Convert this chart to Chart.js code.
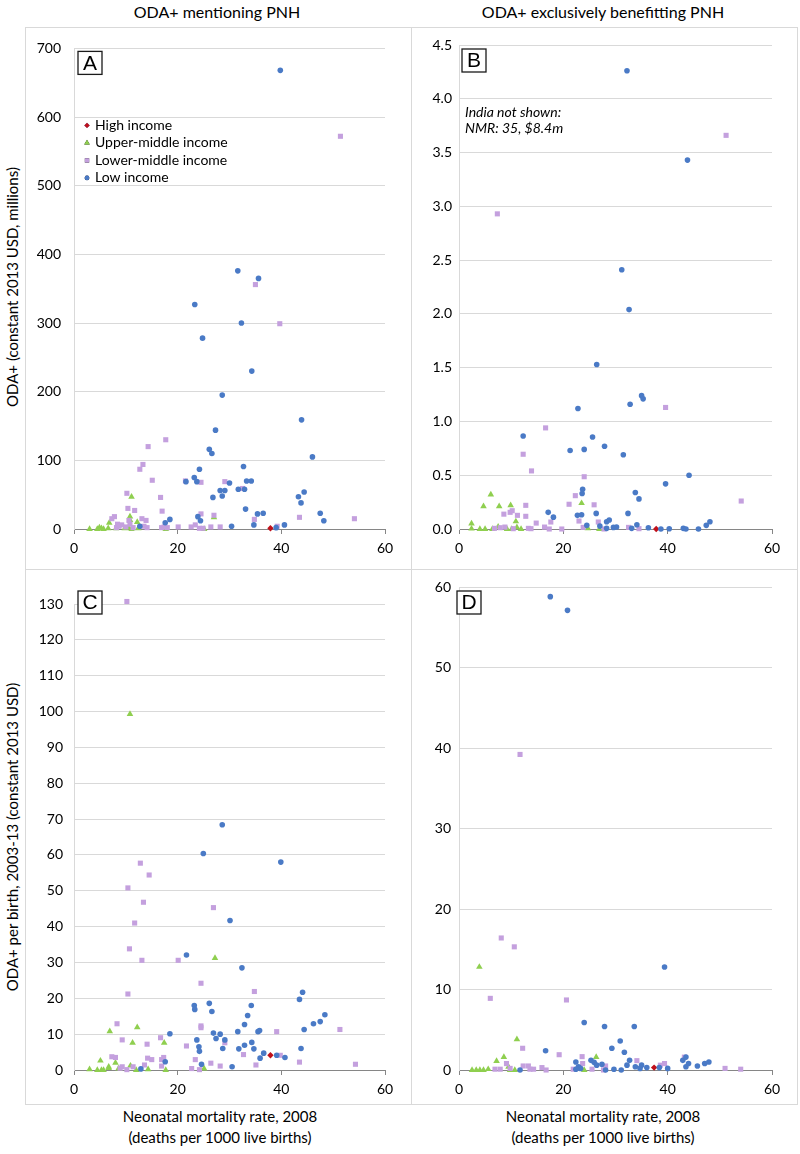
<!DOCTYPE html>
<html>
<head>
<meta charset="utf-8">
<script src="https://cdn.jsdelivr.net/npm/chart.js@4.4.0/dist/chart.umd.min.js"></script>
<style>
body { margin: 0; background: #fff; font-family: Lato, sans-serif; }
#page { position: relative; width: 800px; height: 1154px; overflow: hidden; }
.ln { position: absolute; background: #d9d9d9; }
canvas { position: absolute; }
.t { position: absolute; white-space: nowrap; color: #000; font-size: 15px; transform: translate(-50%, -50%); }
.rot { transform: translate(-50%, -50%) rotate(-90deg); }
</style>
</head>
<body>
<div id="page">
  <div class="ln" style="left:25px;top:27px;width:772px;height:1px"></div>
  <div class="ln" style="left:25px;top:1104px;width:772px;height:1px"></div>
  <div class="ln" style="left:25px;top:569px;width:772px;height:1px"></div>
  <div class="ln" style="left:25px;top:27px;width:1px;height:1078px"></div>
  <div class="ln" style="left:411px;top:27px;width:1px;height:1078px"></div>
  <div class="ln" style="left:797px;top:27px;width:1px;height:1078px"></div>

  <div class="t" style="left:217px;top:11px;font-size:16px">ODA+ mentioning PNH</div>
  <div class="t" style="left:603px;top:11px;font-size:16px">ODA+ exclusively benefitting PNH</div>
  <div class="t rot" style="left:12px;top:287px">ODA+ (constant 2013 USD, millions)</div>
  <div class="t rot" style="left:12px;top:837px">ODA+ per birth, 2003-13 (constant 2013 USD)</div>
  <div class="t" style="left:220px;top:1116px">Neonatal mortality rate, 2008</div>
  <div class="t" style="left:220px;top:1137px">(deaths per 1000 live births)</div>
  <div class="t" style="left:603px;top:1116px">Neonatal mortality rate, 2008</div>
  <div class="t" style="left:603px;top:1137px">(deaths per 1000 live births)</div>

  <canvas id="cA" width="386" height="542" style="left:25px;top:27px"></canvas>
  <canvas id="cB" width="386" height="542" style="left:411px;top:27px"></canvas>
  <canvas id="cC" width="386" height="535" style="left:25px;top:569px"></canvas>
  <canvas id="cD" width="386" height="535" style="left:411px;top:569px"></canvas>
</div>
<script>
// income groups
var groups = ["High income", "Upper-middle income", "Lower-middle income", "Low income"];
var xTicks = [0, 20, 40, 60];

// A: ODA+ mentioning PNH (millions) vs NMR
var aHigh = [[37.9, 1]];
var aUpper = [[11.1,47],[10.8,18],[10.8,13],[12.2,10],[6.8,9],[27.0,17],[3.0,0],[4.5,0],[4.9,2],[5.3,1],[5.7,0],[6.6,1],[8.1,1],[9.8,1],[10.5,2],[11.1,0],[12.4,1],[17.7,0],[25.1,0]];
var aLower = [[51.4,572],[35.0,356],[39.7,299],[17.7,130],[14.3,120],[13.3,94],[12.7,87],[15.1,71],[21.5,70],[24.5,68],[29.1,69],[32.5,59],[10.2,52],[16.7,46],[10.4,30],[11.7,27],[17.0,26],[7.8,18],[7.3,15],[13.1,15],[13.9,12.5],[10.6,12.5],[8.4,7],[9.2,6],[10.8,7],[27.0,20],[24.5,22],[34.8,14],[43.5,17],[54.1,15],[10.0,3],[11.4,2],[14.1,2],[13.5,4],[16.9,2],[18.0,2],[20.1,3],[22.6,3],[23.4,6],[24.2,1],[24.9,1],[26.4,3],[28.2,3],[39.2,4],[17.4,3],[8.2,2],[8.7,4]];
var aLow = [[39.8,668],[31.6,376],[35.6,365],[23.3,327],[32.3,300],[24.8,278],[34.3,230],[28.6,195],[43.9,159],[27.3,144],[46.0,105],[26.1,116],[26.6,110],[32.7,91],[24.2,87],[21.6,69],[23.2,75],[23.7,69],[30.0,67],[33.3,70],[34.2,70],[31.7,58],[32.9,58],[28.2,56],[29.1,56],[28.6,48],[26.8,46],[43.3,47],[44.4,54],[43.8,38],[33.1,29],[35.4,22],[36.5,23],[47.5,23],[48.2,12],[23.9,18],[24.4,12],[18.5,14],[17.6,9],[12.7,4],[30.4,4],[34.7,6],[40.6,6],[39.0,2]];

// B: ODA+ exclusively benefitting PNH (millions)
var bHigh = [[37.8, 0]];
var bUpper = [[6.1,0.32],[4.7,0.21],[7.7,0.21],[9.9,0.22],[23.5,0.24],[10.9,0.07],[2.4,0.05],[2.4,0.003],[4.0,0],[5.0,0],[6.4,0],[7.5,0.02],[9.2,0],[10.1,0],[11.1,0.015],[11.9,0],[24.7,0.006],[26.9,0]];
var bLower = [[51.2,3.66],[7.35,2.93],[39.6,1.13],[16.6,0.94],[12.3,0.695],[13.9,0.54],[24.0,0.486],[22.3,0.31],[21.1,0.23],[25.9,0.225],[54.1,0.26],[12.8,0.22],[8.6,0.138],[9.8,0.155],[10.2,0.17],[11.2,0.127],[12.8,0.118],[14.8,0.055],[17.6,0.065],[23.0,0.074],[26.7,0.065],[23.8,0.015],[19.7,0],[17.3,0],[16.4,0.018],[13.3,0.006],[13.8,0.003],[8.8,0.018],[7.9,0.012],[6.8,0.006],[10.4,0.003],[32.5,0.015],[34.5,0.003],[27.8,0]];
var bLow = [[32.2,4.26],[43.8,3.43],[31.2,2.41],[32.6,2.04],[26.4,1.53],[35.0,1.24],[35.3,1.21],[32.8,1.16],[22.8,1.12],[12.3,0.865],[25.6,0.856],[21.3,0.73],[24.0,0.74],[27.9,0.77],[31.5,0.69],[44.1,0.50],[39.6,0.42],[23.7,0.37],[23.6,0.33],[33.8,0.34],[34.5,0.28],[17.1,0.155],[18.1,0.11],[22.7,0.127],[23.5,0.133],[26.3,0.145],[32.4,0.145],[24.5,0.034],[27.0,0.027],[28.3,0.068],[28.8,0.083],[28.3,0.006],[29.6,0.015],[30.2,0.018],[33.1,0.006],[34.1,0.04],[36.3,0.012],[38.7,0],[40.3,0.003],[43.0,0.006],[43.5,0],[45.9,0],[47.4,0.034],[48.1,0.068]];

// C: ODA+ mentioning PNH per birth (USD)
var cHigh = [[37.9, 4.1]];
var cUpper = [[10.8,99.3],[27.2,31.2],[12.2,11.9],[6.9,10.8],[11.3,7.6],[17.4,7.6],[5.1,2.6],[8.0,2.0],[6.7,0.9],[6.7,0.5],[10.9,1.2],[3.0,0.2],[4.5,0],[5.3,0],[5.7,0],[8.6,0.4],[12.0,0],[14.3,0.2],[17.7,0],[25.1,0.4]];
var cLower = [[10.2,130.7],[12.8,57.7],[14.5,54.4],[10.4,50.8],[13.4,46.8],[26.9,45.3],[11.7,41.0],[10.7,33.8],[13.1,30.6],[20.1,30.6],[24.5,24.2],[34.8,21.9],[10.4,21.2],[8.3,12.9],[24.5,12.3],[24.5,11.8],[39.1,10.7],[51.3,11.3],[16.7,9.0],[9.3,8.4],[14.1,7.2],[21.7,6.7],[29.1,7.6],[7.3,3.7],[8.0,3.5],[14.2,3.3],[15.0,2.9],[17.3,3.5],[16.9,2.9],[23.4,2.9],[32.7,4.3],[39.8,4.1],[43.5,2.2],[54.3,1.6],[35.1,1.4],[26.4,1.9],[28.2,1.1],[22.7,0.4],[24.2,0.1],[16.9,1.1],[13.6,1.4],[11.4,0.9],[9.3,0.9],[10.2,0.1],[8.9,0.5]];
var cLow = [[28.6,68.4],[24.95,60.4],[39.9,58.0],[30.1,41.7],[21.7,32.1],[32.4,28.5],[44.1,21.7],[43.5,19.7],[23.2,18.0],[23.3,16.9],[26.1,18.6],[26.6,16.3],[34.2,18.0],[33.5,15.2],[48.4,15.4],[47.5,13.5],[46.2,12.9],[32.9,12.7],[44.4,11.3],[35.5,10.7],[35.8,11.0],[31.6,10.7],[26.9,10.3],[28.2,10.0],[18.5,10.1],[27.4,8.8],[29.1,8.4],[23.7,8.4],[24.1,6.5],[24.2,5.2],[28.7,6.0],[31.8,5.9],[32.9,6.9],[34.3,7.7],[34.7,5.9],[36.6,4.7],[39.1,4.1],[40.7,3.5],[35.9,3.3],[43.8,6.0],[17.6,2.3],[24.6,1.6],[30.5,0.9],[12.9,0.3]];

// D: ODA+ exclusively benefitting PNH per birth (USD)
var dHigh = [[37.4, 0.3]];
var dUpper = [[3.9,12.8],[11.1,3.8],[8.6,1.6],[7.2,1.1],[26.3,1.6],[2.5,0],[3.3,0],[4.0,0],[4.7,0],[5.6,0.1],[9.5,0.4],[9.8,0],[10.7,0],[24.0,0]];
var dLower = [[11.7,39.2],[8.1,16.4],[10.6,15.3],[6.0,8.9],[20.6,8.7],[12.2,2.7],[19.2,1.9],[23.6,1.66],[34.1,1.16],[9.1,0.8],[23.7,0.8],[39.4,0.8],[38.6,0.6],[43.2,1.6],[28.1,0.5],[6.9,0.1],[7.9,0.1],[9.8,0.2],[12.3,0.5],[13.3,0.5],[13.6,0.1],[14.3,0.1],[15.9,0.3],[16.7,0],[21.9,0.1],[25.5,0.1],[27.7,0],[51.0,0.2],[54.0,0.1]];
var dLow = [[17.5,58.8],[20.8,57.1],[39.4,12.8],[24.0,5.9],[27.9,5.4],[33.6,5.4],[29.3,2.7],[30.9,3.6],[31.7,2.2],[16.6,2.4],[22.4,1.0],[25.3,1.2],[25.9,0.95],[26.4,0.6],[27.4,0.7],[22.9,0.4],[23.3,0.2],[22.4,0.1],[28.1,0],[29.7,0.1],[31.1,0],[32.2,0.6],[32.7,1.2],[33.8,0.4],[35.0,0.6],[36.0,0.3],[38.4,0.3],[40.0,0.2],[42.9,1.2],[43.5,1.6],[44.0,0.8],[43.5,0.4],[45.7,0.5],[47.1,0.8],[47.9,1.0],[11.7,0],[34.7,0.2]];

Chart.defaults.font.family = "Lato, sans-serif";
Chart.defaults.font.size = 14;
Chart.defaults.color = "#000";
Chart.defaults.animation = false;

var styles = [
    { color: "#c0101a", shape: "rectRot", r: 3.2 },
    { color: "#8fcf4f", shape: "triangle", r: 3.8 },
    { color: "#c4a0de", shape: "rect", r: 3.6 },
    { color: "#4a7ac6", shape: "circle", r: 2.8 }
];

function makeSets(series) {
    return series.map(function (s, i) {
        return {
            label: groups[i],
            data: s.map(function (p) { return { x: p[0], y: p[1] }; }),
            pointStyle: styles[i].shape,
            pointRadius: styles[i].r,
            pointBackgroundColor: styles[i].color,
            pointBorderWidth: 0,
            clip: false,
            order: 3 - i
        };
    });
}

// letter box, inside legend and notes
var panelDecor = {
    id: "panelDecor",
    afterDraw: function (chart, args, o) {
        var ctx = chart.ctx, a = chart.chartArea;
        ctx.save();
        if (o.legend) {
            ctx.font = "14px Lato";
            ctx.textBaseline = "middle";
            ctx.textAlign = "left";
            groups.forEach(function (g, i) {
                var y = a.top + 77 + i * 17.5;
                Chart.helpers.drawPoint(ctx, {
                    pointStyle: styles[i].shape, radius: styles[i].r * 0.85, rotation: 0, borderWidth: 0
                }, a.left + 13, y);
                ctx.fillStyle = styles[i].color;
                ctx.fill();
                ctx.fillStyle = "#000";
                ctx.fillText(g, a.left + 21, y);
            });
        }
        if (o.note) {
            ctx.font = "italic 14px Lato";
            ctx.fillStyle = "#000";
            ctx.textAlign = "left";
            ctx.textBaseline = "middle";
            o.note.forEach(function (line, i) {
                ctx.fillText(line, a.left + 6, a.top + 67 + i * 16.5);
            });
        }
        var bx = a.left + o.box[0], by = a.top + o.box[1];
        ctx.fillStyle = "#fff";
        ctx.fillRect(bx, by, 24, 23);
        ctx.strokeStyle = "#1a1a1a";
        ctx.lineWidth = 1.3;
        ctx.strokeRect(bx, by, 24, 23);
        ctx.fillStyle = "#000";
        ctx.font = "21px 'Liberation Sans'";
        ctx.textAlign = "center";
        ctx.textBaseline = "middle";
        ctx.fillText(o.letter, bx + 12, by + 12.5);
        ctx.restore();
    }
};

function panel(id, series, yMax, yStep, dec, yw, ypad, pad, deco) {
    return new Chart(document.getElementById(id), {
        type: "scatter",
        data: { datasets: makeSets(series) },
        plugins: [panelDecor],
        options: {
            responsive: false,
            layout: { padding: pad },
            plugins: {
                legend: { display: false },
                tooltip: { enabled: false },
                panelDecor: deco
            },
            scales: {
                x: {
                    type: "linear", min: 0, max: 60,
                    afterBuildTicks: function (s) { s.ticks = xTicks.map(function (v) { return { value: v }; }); },
                    afterFit: function (s) { s.height = 34; },
                    grid: { drawOnChartArea: false, drawTicks: true, tickLength: 5, color: "#868686" },
                    border: { color: "#868686" },
                    ticks: { padding: 6 }
                },
                y: {
                    min: 0, max: yMax,
                    ticks: {
                        stepSize: yStep, padding: ypad,
                        callback: function (v) { return v.toFixed(dec); }
                    },
                    afterFit: function (s) { s.width = yw; },
                    grid: { color: "#d9d9d9", drawTicks: false },
                    border: { color: "#d9d9d9" }
                }
            }
        }
    });
}

panel("cA", [aHigh, aUpper, aLower, aLow], 700, 100, 0, 49, 13,
    { top: 18, right: 26, bottom: 6, left: 0 }, { letter: "A", box: [4, 3], legend: true });
panel("cB", [bHigh, bUpper, bLower, bLow], 4.5, 0.5, 1, 48, 7,
    { top: 18, right: 25, bottom: 6, left: 0 },
    { letter: "B", box: [3, 4], note: ["India not shown:", "NMR: 35, $8.4m"] });
panel("cC", [cHigh, cUpper, cLower, cLow], 130, 10, 0, 49, 11,
    { top: 35, right: 26, bottom: 0, left: 0 }, { letter: "C", box: [4, -13] });
panel("cD", [dHigh, dUpper, dLower, dLow], 60, 10, 0, 48, 8,
    { top: 18, right: 25, bottom: 0, left: 0 }, { letter: "D", box: [-2, 4] });
</script>
</body>
</html>
